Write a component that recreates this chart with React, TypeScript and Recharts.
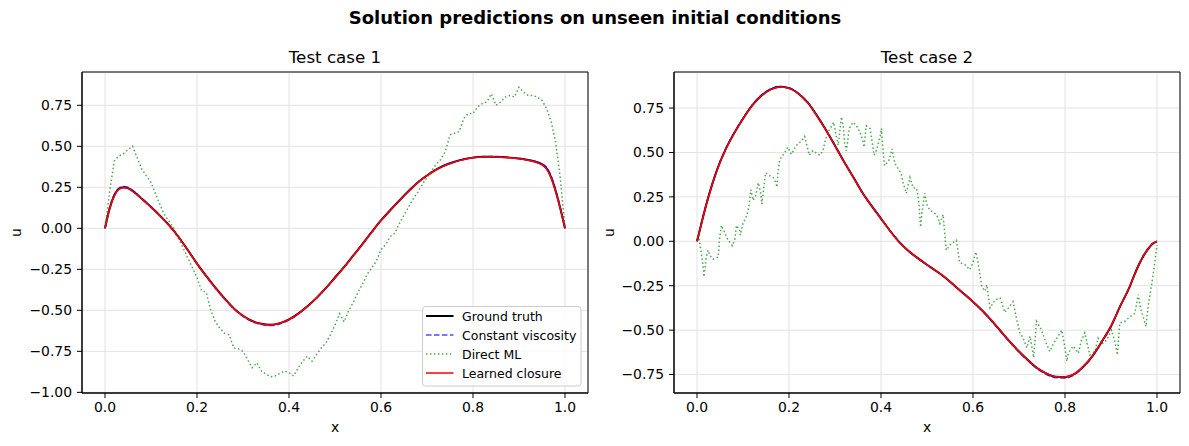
import React from 'react';
import { LineChart, Line, XAxis, YAxis, CartesianGrid, ReferenceArea } from 'recharts';

// axes
const xTicks = [0, 0.2, 0.4, 0.6, 0.8, 1.0];
const yTicks1 = [-1, -0.75, -0.5, -0.25, 0, 0.25, 0.5, 0.75];
const yTicks2 = [-0.75, -0.5, -0.25, 0, 0.25, 0.5, 0.75];
const xDomain: [number, number] = [-0.05, 1.05];
const yDomain1: [number, number] = [-1.004, 0.953];
const yDomain2: [number, number] = [-0.854, 0.953];

// x positions of the smooth solutions
const smoothX = [0, 0.01, 0.02, 0.03, 0.04, 0.05, 0.06, 0.08, 0.1, 0.12, 0.14, 0.16, 0.18, 0.2, 0.22, 0.24, 0.26, 0.28, 0.3, 0.32, 0.34, 0.36, 0.38, 0.4, 0.42, 0.44, 0.46, 0.48, 0.5, 0.52, 0.54, 0.56, 0.58, 0.6, 0.62, 0.64, 0.66, 0.68, 0.7, 0.72, 0.74, 0.76, 0.78, 0.8, 0.82, 0.84, 0.86, 0.88, 0.9, 0.92, 0.94, 0.95, 0.96, 0.97, 0.98, 0.99, 1.0];

// Test case 1
const truth1 = [0, 0.12, 0.2, 0.24, 0.25, 0.245, 0.228, 0.18, 0.13, 0.076, 0.016, -0.053, -0.132, -0.215, -0.29, -0.362, -0.428, -0.488, -0.533, -0.565, -0.582, -0.588, -0.578, -0.555, -0.52, -0.475, -0.424, -0.365, -0.3, -0.235, -0.165, -0.095, -0.022, 0.048, 0.11, 0.17, 0.227, 0.28, 0.322, 0.358, 0.386, 0.406, 0.421, 0.431, 0.436, 0.437, 0.435, 0.431, 0.425, 0.416, 0.402, 0.39, 0.365, 0.31, 0.225, 0.12, 0];
const constVisc1 = [0, 0.125, 0.205, 0.245, 0.255, 0.25, 0.232, 0.183, 0.132, 0.077, 0.016, -0.054, -0.134, -0.217, -0.293, -0.365, -0.431, -0.491, -0.537, -0.569, -0.587, -0.593, -0.583, -0.559, -0.523, -0.477, -0.425, -0.366, -0.3, -0.234, -0.164, -0.094, -0.021, 0.049, 0.111, 0.171, 0.228, 0.281, 0.323, 0.359, 0.387, 0.407, 0.422, 0.432, 0.437, 0.438, 0.436, 0.432, 0.426, 0.418, 0.405, 0.394, 0.372, 0.318, 0.232, 0.125, 0];
const learned1 = [0, 0.118, 0.198, 0.238, 0.248, 0.243, 0.226, 0.179, 0.129, 0.075, 0.015, -0.054, -0.133, -0.216, -0.291, -0.363, -0.429, -0.489, -0.534, -0.566, -0.583, -0.589, -0.579, -0.556, -0.521, -0.476, -0.425, -0.366, -0.301, -0.236, -0.166, -0.096, -0.023, 0.047, 0.109, 0.169, 0.226, 0.279, 0.321, 0.357, 0.385, 0.405, 0.42, 0.43, 0.435, 0.436, 0.434, 0.43, 0.424, 0.415, 0.4, 0.388, 0.362, 0.306, 0.221, 0.117, 0];
const mlX1 = [0, 0.01, 0.02, 0.03, 0.04, 0.05, 0.06, 0.07, 0.08, 0.09, 0.1, 0.11, 0.12, 0.13, 0.14, 0.15, 0.16, 0.17, 0.18, 0.19, 0.2, 0.21, 0.22, 0.23, 0.24, 0.25, 0.26, 0.27, 0.28, 0.29, 0.3, 0.31, 0.32, 0.33, 0.34, 0.35, 0.36, 0.37, 0.38, 0.39, 0.4, 0.41, 0.42, 0.43, 0.44, 0.45, 0.46, 0.47, 0.48, 0.49, 0.5, 0.51, 0.52, 0.53, 0.54, 0.55, 0.56, 0.57, 0.58, 0.59, 0.6, 0.61, 0.62, 0.63, 0.64, 0.65, 0.66, 0.67, 0.68, 0.69, 0.7, 0.71, 0.72, 0.73, 0.74, 0.75, 0.76, 0.77, 0.78, 0.79, 0.8, 0.81, 0.82, 0.83, 0.84, 0.85, 0.86, 0.87, 0.88, 0.89, 0.9, 0.91, 0.92, 0.93, 0.94, 0.95, 0.96, 0.97, 0.98, 0.99, 1.0];
const directMl1 = [0, 0.22, 0.41, 0.44, 0.455, 0.48, 0.5, 0.43, 0.36, 0.32, 0.28, 0.21, 0.14, 0.08, 0.04, 0, -0.06, -0.12, -0.18, -0.24, -0.3, -0.38, -0.39, -0.5, -0.57, -0.61, -0.64, -0.65, -0.73, -0.735, -0.75, -0.8, -0.85, -0.82, -0.87, -0.89, -0.905, -0.9, -0.885, -0.87, -0.88, -0.9, -0.85, -0.81, -0.78, -0.81, -0.77, -0.73, -0.7, -0.65, -0.59, -0.52, -0.57, -0.5, -0.45, -0.39, -0.34, -0.28, -0.24, -0.2, -0.13, -0.1, -0.05, -0.03, 0.03, 0.08, 0.13, 0.18, 0.22, 0.27, 0.31, 0.35, 0.39, 0.42, 0.47, 0.57, 0.58, 0.59, 0.67, 0.7, 0.7, 0.74, 0.76, 0.77, 0.82, 0.75, 0.77, 0.8, 0.81, 0.8, 0.86, 0.83, 0.81, 0.81, 0.8, 0.78, 0.73, 0.65, 0.52, 0.3, 0];

// Test case 2
const truth2 = [0, 0.105, 0.205, 0.295, 0.375, 0.445, 0.505, 0.605, 0.69, 0.765, 0.82, 0.855, 0.87, 0.862, 0.832, 0.783, 0.71, 0.628, 0.538, 0.446, 0.36, 0.272, 0.198, 0.128, 0.058, -0.005, -0.055, -0.095, -0.132, -0.167, -0.205, -0.25, -0.295, -0.34, -0.39, -0.445, -0.505, -0.565, -0.62, -0.67, -0.715, -0.745, -0.763, -0.765, -0.748, -0.705, -0.645, -0.565, -0.478, -0.365, -0.26, -0.195, -0.135, -0.085, -0.045, -0.015, 0];
const constVisc2 = [0, 0.108, 0.208, 0.298, 0.378, 0.448, 0.508, 0.608, 0.693, 0.768, 0.823, 0.858, 0.872, 0.864, 0.834, 0.785, 0.712, 0.63, 0.54, 0.448, 0.361, 0.273, 0.199, 0.128, 0.058, -0.006, -0.056, -0.096, -0.133, -0.168, -0.206, -0.251, -0.296, -0.342, -0.392, -0.448, -0.508, -0.568, -0.624, -0.674, -0.719, -0.75, -0.768, -0.77, -0.752, -0.708, -0.647, -0.567, -0.479, -0.366, -0.26, -0.194, -0.133, -0.082, -0.042, -0.013, 0];
const learned2 = [0, 0.104, 0.204, 0.294, 0.374, 0.444, 0.504, 0.604, 0.689, 0.764, 0.819, 0.854, 0.869, 0.861, 0.831, 0.782, 0.709, 0.627, 0.537, 0.445, 0.359, 0.271, 0.197, 0.127, 0.057, -0.006, -0.055, -0.095, -0.132, -0.167, -0.205, -0.25, -0.295, -0.34, -0.39, -0.445, -0.505, -0.565, -0.62, -0.67, -0.714, -0.744, -0.762, -0.764, -0.747, -0.704, -0.644, -0.564, -0.477, -0.364, -0.259, -0.195, -0.135, -0.085, -0.045, -0.015, 0];
const directMl2: [number, number][] = [
  [0, 0], [0.003, 0.04], [0.006, -0.01], [0.01, -0.08], [0.013, -0.13], [0.015, -0.2], [0.02, -0.09], [0.024, -0.05],
  [0.028, -0.08], [0.035, -0.1], [0.046, -0.09], [0.049, 0.01], [0.053, 0.09], [0.06, 0.05], [0.067, 0.01], [0.077, -0.025],
  [0.082, 0.01], [0.086, 0.09], [0.093, 0.06], [0.094, 0.035], [0.1, 0.1], [0.109, 0.15], [0.113, 0.2], [0.117, 0.29],
  [0.122, 0.23], [0.128, 0.26], [0.133, 0.33], [0.138, 0.28], [0.141, 0.21], [0.145, 0.3], [0.149, 0.385], [0.158, 0.37],
  [0.165, 0.36], [0.171, 0.335], [0.174, 0.305], [0.176, 0.39], [0.18, 0.46], [0.191, 0.5], [0.197, 0.53], [0.205, 0.49],
  [0.216, 0.54], [0.227, 0.565], [0.234, 0.59], [0.239, 0.54], [0.244, 0.485], [0.252, 0.51], [0.267, 0.485], [0.274, 0.51],
  [0.278, 0.56], [0.285, 0.615], [0.292, 0.645], [0.297, 0.67], [0.303, 0.59], [0.307, 0.54], [0.31, 0.61], [0.314, 0.7],
  [0.318, 0.645], [0.321, 0.55], [0.325, 0.51], [0.331, 0.635], [0.339, 0.67], [0.347, 0.65], [0.354, 0.615], [0.36, 0.57],
  [0.363, 0.53], [0.368, 0.65], [0.376, 0.635], [0.382, 0.54], [0.385, 0.485], [0.39, 0.51], [0.399, 0.6], [0.401, 0.635],
  [0.405, 0.49], [0.408, 0.425], [0.418, 0.46], [0.424, 0.52], [0.43, 0.44], [0.437, 0.41], [0.444, 0.38], [0.448, 0.33],
  [0.455, 0.27], [0.463, 0.36], [0.47, 0.3], [0.477, 0.3], [0.482, 0.23], [0.486, 0.08], [0.489, 0.16], [0.495, 0.27],
  [0.499, 0.21], [0.506, 0.176], [0.521, 0.15], [0.528, 0.1], [0.535, 0.15], [0.539, 0.03], [0.542, -0.05], [0.55, -0.02],
  [0.564, 0.005], [0.571, -0.12], [0.582, -0.13], [0.593, -0.16], [0.6, -0.12], [0.606, -0.06], [0.611, -0.12], [0.619, -0.255],
  [0.626, -0.28], [0.63, -0.245], [0.637, -0.375], [0.648, -0.33], [0.659, -0.32], [0.669, -0.4], [0.677, -0.375], [0.687, -0.34],
  [0.695, -0.44], [0.702, -0.515], [0.709, -0.545], [0.717, -0.6], [0.724, -0.535], [0.727, -0.58], [0.732, -0.655], [0.738, -0.45],
  [0.749, -0.5], [0.76, -0.58], [0.767, -0.62], [0.774, -0.58], [0.785, -0.535], [0.793, -0.5], [0.8, -0.6], [0.804, -0.675],
  [0.807, -0.63], [0.818, -0.59], [0.829, -0.63], [0.836, -0.555], [0.843, -0.515], [0.854, -0.64], [0.865, -0.62], [0.872, -0.545],
  [0.88, -0.58], [0.891, -0.555], [0.901, -0.5], [0.909, -0.57], [0.914, -0.64], [0.919, -0.46], [0.93, -0.45], [0.941, -0.425],
  [0.952, -0.405], [0.959, -0.3], [0.965, -0.385], [0.97, -0.425], [0.976, -0.48], [0.981, -0.36], [0.989, -0.235], [0.994, -0.14],
  [1.0, -0.02],
];

const series = [
  { key: 'truth', name: 'Ground truth', color: '#000000', width: 2, dash: undefined as string | undefined, opacity: 1, curve: 'monotone' },
  { key: 'const', name: 'Constant viscosity', color: '#0000ff', width: 1.5, dash: '5.55 2.4', opacity: 0.7, curve: 'monotone' },
  { key: 'ml', name: 'Direct ML', color: '#008000', width: 1.5, dash: '1.5 2.475', opacity: 0.7, curve: 'linear' },
  { key: 'learned', name: 'Learned closure', color: '#ff0000', width: 1.5, dash: undefined as string | undefined, opacity: 1, curve: 'monotone' },
];

const rows = (xs: number[], us: number[]) => xs.map((x, i) => ({ x, u: us[i] }));
const pairRows = (p: [number, number][]) => p.map(([x, u]) => ({ x, u }));

const panel1: Record<string, { x: number; u: number }[]> = {
  truth: rows(smoothX, truth1),
  const: rows(smoothX, constVisc1),
  ml: rows(mlX1, directMl1),
  learned: rows(smoothX, learned1),
};
const panel2: Record<string, { x: number; u: number }[]> = {
  truth: rows(smoothX, truth2),
  const: rows(smoothX, constVisc2),
  ml: pairRows(directMl2),
  learned: rows(smoothX, learned2),
};

const FONT = 'DejaVu Sans';
const tickStyle = { fill: '#000', fontSize: 13.9, fontFamily: FONT };
const fmtY = (v: number) => v.toFixed(2).replace('-', '\u2212');
const fmtX = (v: number) => v.toFixed(1);

function Panel({ left, width, marginRight, yDomain, yTicks, data }: {
  left: number; width: number; marginRight: number;
  yDomain: [number, number]; yTicks: number[];
  data: Record<string, { x: number; u: number }[]>;
}) {
  return (
    <div style={{ position: 'absolute', left, top: 0 }}>
      <LineChart width={width} height={446} margin={{ top: 72, right: marginRight, bottom: 23, left: 22 }}>
        <CartesianGrid stroke="#e3e3e3" strokeWidth={1} />
        <XAxis type="number" dataKey="x" domain={xDomain} ticks={xTicks} allowDataOverflow interval={0}
          height={30} tickSize={5} tickMargin={4} tick={tickStyle} tickFormatter={fmtX} stroke="#000" />
        <YAxis type="number" domain={yDomain} ticks={yTicks} allowDataOverflow interval={0}
          width={60} tickSize={5} tickMargin={5} tick={tickStyle} tickFormatter={fmtY} stroke="#000" />
        {series.map((s) => (
          <Line key={s.key} data={data[s.key]} dataKey="u" type={s.curve as any}
            stroke={s.color} strokeOpacity={s.opacity} strokeWidth={s.width} strokeDasharray={s.dash}
            dot={false} activeDot={false} isAnimationActive={false} />
        ))}
        <ReferenceArea x1={xDomain[0]} x2={xDomain[1]} y1={yDomain[0]} y2={yDomain[1]}
          fill="none" fillOpacity={0} stroke="#000" strokeWidth={1} ifOverflow="visible" />
      </LineChart>
    </div>
  );
}

export default function App() {
  const legendTop = 316;
  return (
    <div style={{ position: 'fixed', left: 0, top: 0, width: 1189, height: 446, background: '#fff', overflow: 'hidden', fontFamily: FONT }}>
      <Panel left={0} width={600} marginRight={12} yDomain={yDomain1} yTicks={yTicks1} data={panel1} />
      <Panel left={592} width={597} marginRight={9} yDomain={yDomain2} yTicks={yTicks2} data={panel2} />
      <svg width={1189} height={446} style={{ position: 'absolute', left: 0, top: 0, pointerEvents: 'none' }}>
        <text x={595} y={24} textAnchor="middle" fontFamily={FONT} fontWeight="bold" fontSize={18} fill="#000">
          Solution predictions on unseen initial conditions
        </text>
        <text x={335} y={63.3} textAnchor="middle" fontFamily={FONT} fontSize={16.7} fill="#000">Test case 1</text>
        <text x={927} y={63.3} textAnchor="middle" fontFamily={FONT} fontSize={16.7} fill="#000">Test case 2</text>
        <text x={335} y={432} textAnchor="middle" fontFamily={FONT} fontSize={13.9} fill="#000">x</text>
        <text x={927} y={432} textAnchor="middle" fontFamily={FONT} fontSize={13.9} fill="#000">x</text>
        <text x={20.5} y={232.5} transform="rotate(-90 20.5 232.5)" textAnchor="middle" fontFamily={FONT} fontSize={13.9} fill="#000">u</text>
        <text x={614} y={232.5} transform="rotate(-90 614 232.5)" textAnchor="middle" fontFamily={FONT} fontSize={13.9} fill="#000">u</text>
        <rect x={422.5} y={306.5} width={158.5} height={79.5} rx={3} fill="#fff" fillOpacity={0.8} stroke="#cccccc" strokeWidth={1} />
        {series.map((s, i) => {
          const y = legendTop + i * 19;
          return (
            <g key={s.key}>
              <line x1={426} x2={453.5} y1={y} y2={y} stroke={s.color} strokeOpacity={s.opacity} strokeWidth={s.width} strokeDasharray={s.dash} />
              <text x={462} y={y + 4.5} fontFamily={FONT} fontSize={12.5} fill="#000">{s.name}</text>
            </g>
          );
        })}
      </svg>
    </div>
  );
}
